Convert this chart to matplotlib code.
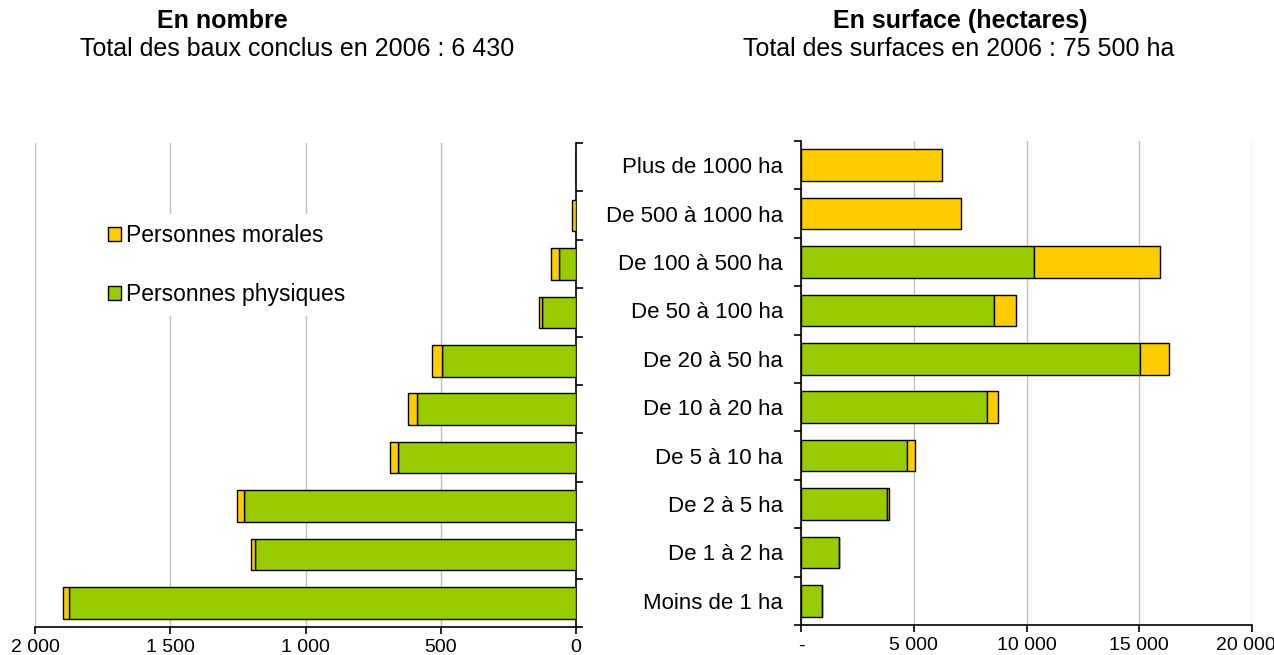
import matplotlib
matplotlib.use("Agg")
import matplotlib.pyplot as plt
import matplotlib.transforms as mtransforms
from matplotlib.patches import Patch
from matplotlib.ticker import FuncFormatter

plt.rcParams['font.family'] = ['Liberation Sans', 'DejaVu Sans']

# ==============================
# DATA (top to bottom as shown)
# ==============================
categories = ["Plus de 1000 ha", "De 500 à 1000 ha", "De 100 à 500 ha",
              "De 50 à 100 ha", "De 20 à 50 ha", "De 10 à 20 ha",
              "De 5 à 10 ha", "De 2 à 5 ha", "De 1 à 2 ha", "Moins de 1 ha"]

# number of leases
nb_physiques = [0, 0, 64, 124, 494, 587, 659, 1228, 1188, 1874]
nb_morales = [0, 14, 29, 14, 39, 33, 27, 27, 13, 23]

# surface (hectares)
ha_physiques = [0, 0, 10325, 8550, 15030, 8240, 4719, 3802, 1686, 947]
ha_morales = [6243, 7115, 5607, 977, 1301, 488, 325, 100, 0, 0]

left_ticks = [0, 500, 1000, 1500, 2000]
right_ticks = [0, 5000, 10000, 15000, 20000]

GREEN = "#99cc00"
YELLOW = "#ffcc00"
GRID = "#c0c0c0"


def fmt_thousands(v, pos=None):
    if v == 0:
        return "0"
    return f"{int(v):,}".replace(",", " ")


fig = plt.figure(figsize=(12.74, 6.55), dpi=100)

n = len(categories)
ypos = list(range(n))
bar_h = 0.65

# ==============================
# LEFT: EN NOMBRE
# ==============================
axl = fig.add_axes([35 / 1274, 28 / 655, 541 / 1274, 484 / 655])
axl.barh(ypos, nb_physiques, height=bar_h, color=GREEN, edgecolor="black", linewidth=1.0, zorder=3)
axl.barh(ypos, nb_morales, left=nb_physiques, height=bar_h, color=YELLOW,
         edgecolor="black", linewidth=1.0, zorder=3)
axl.set_xlim(2000, 0)
axl.set_ylim(n - 0.5, -0.5)
axl.set_xticks(left_ticks)
axl.xaxis.set_major_formatter(FuncFormatter(fmt_thousands))
axl.xaxis.grid(True, color=GRID, linewidth=1.0, zorder=0)
axl.set_axisbelow(True)
for s in ["top", "left"]:
    axl.spines[s].set_visible(False)
axl.spines["right"].set_linewidth(1.2)
axl.spines["bottom"].set_linewidth(1.2)
axl.yaxis.tick_right()
axl.set_yticks([i - 0.5 for i in range(n + 1)])
axl.set_yticklabels([])
axl.tick_params(axis="y", direction="out", length=5, width=1.2)
axl.tick_params(axis="x", direction="out", length=5, width=1.2, labelsize=14, pad=4)

handles = [Patch(facecolor=YELLOW, edgecolor="black", label="Personnes morales"),
           Patch(facecolor=GREEN, edgecolor="black", label="Personnes physiques")]
leg = axl.legend(handles=handles, loc="center left", bbox_to_anchor=(0.095, 0.748),
                 frameon=True, facecolor="white", edgecolor="none", fancybox=False,
                 fontsize=16.5, handlelength=0.55, handleheight=0.55, handletextpad=0.25,
                 labelspacing=1.55, borderpad=0.45, framealpha=1)
leg.set_zorder(4)

# ==============================
# RIGHT: EN SURFACE
# ==============================
axr = fig.add_axes([801 / 1274, 30 / 655, 451 / 1274, 484 / 655])
axr.barh(ypos, ha_physiques, height=bar_h, color=GREEN, edgecolor="black", linewidth=1.0, zorder=3)
axr.barh(ypos, ha_morales, left=ha_physiques, height=bar_h, color=YELLOW,
         edgecolor="black", linewidth=1.0, zorder=3)
axr.set_xlim(0, 20000)
axr.set_ylim(n - 0.5, -0.5)
axr.set_xticks(right_ticks)
axr.xaxis.set_major_formatter(FuncFormatter(lambda v, p: "-" if v == 0 else fmt_thousands(v)))
axr.xaxis.grid(True, color=GRID, linewidth=1.0, zorder=0)
axr.set_axisbelow(True)
for s in ["top", "right"]:
    axr.spines[s].set_visible(False)
axr.spines["left"].set_linewidth(1.2)
axr.spines["bottom"].set_linewidth(1.2)
axr.set_yticks(ypos)
axr.set_yticklabels(categories)
axr.set_yticks([i - 0.5 for i in range(n + 1)], minor=True)
axr.tick_params(axis="y", which="major", length=0, labelsize=16, pad=13)
axr.tick_params(axis="y", which="minor", direction="out", length=5, width=1.2)
axr.tick_params(axis="x", direction="out", length=5, width=1.2, labelsize=14, pad=4)

# keep the last tick label inside the picture, as in the original
last = axr.get_xticklabels()[-1]
last.set_transform(last.get_transform() + mtransforms.ScaledTranslation(-6 / 100, 0, fig.dpi_scale_trans))

# ==============================
# TITLES
# ==============================
fig.text(222 / 1274, 1 - 21 / 655, "En nombre", ha="center", va="center",
         fontsize=18, fontweight="bold")
fig.text(297 / 1274, 1 - 49 / 655, "Total des baux conclus en 2006 : 6 430",
         ha="center", va="center", fontsize=18)
fig.text(960 / 1274, 1 - 21 / 655, "En surface (hectares)", ha="center", va="center",
         fontsize=18, fontweight="bold")
fig.text(959 / 1274, 1 - 49 / 655, "Total des surfaces en 2006 : 75 500 ha",
         ha="center", va="center", fontsize=18)

fig.savefig("out.png", dpi=100)
